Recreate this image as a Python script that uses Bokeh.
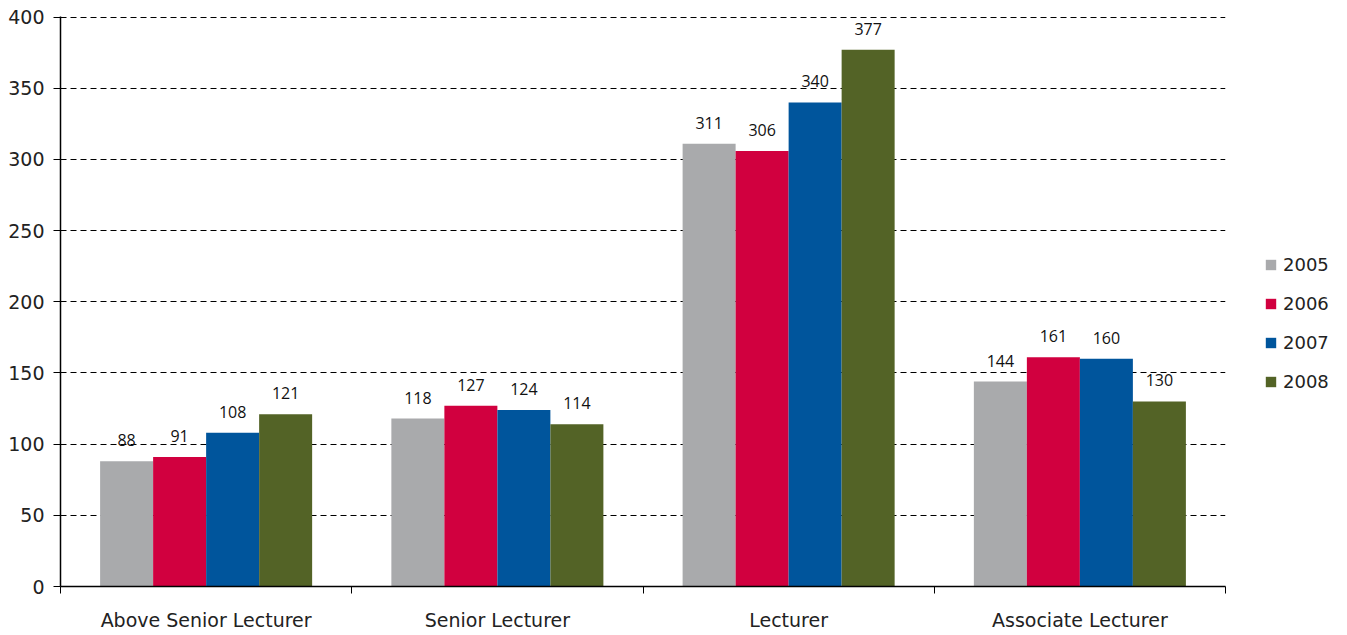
from bokeh.plotting import figure
from bokeh.models import ColumnDataSource, FixedTicker, Legend, LegendItem, Range1d
from bokeh.core.properties import value
from bokeh.embed import file_html
from bokeh.resources import INLINE

categories = ["Above Senior Lecturer", "Senior Lecturer", "Lecturer", "Associate Lecturer"]
years = ["2005", "2006", "2007", "2008"]
v2005 = [88, 118, 311, 144]
v2006 = [91, 127, 306, 161]
v2007 = [108, 124, 340, 160]
v2008 = [121, 114, 377, 130]
series = [v2005, v2006, v2007, v2008]
colors = ["#A9AAAC", "#D1003F", "#00559C", "#536326"]
y_ticks = [0, 50, 100, 150, 200, 250, 300, 350, 400]

p = figure(frame_width=1165, frame_height=570, output_backend="svg", toolbar_location=None,
           x_range=Range1d(0, len(categories)), y_range=Range1d(0, 400.4),
           min_border_left=60, min_border_right=122, min_border_top=16, min_border_bottom=49)
p.outline_line_color = None
p.background_fill_color = "white"
p.border_fill_color = "white"

bw = 0.182
items = []
for i, (yr, vals, col) in enumerate(zip(years, series, colors)):
    off = (i - 1.5) * bw
    xs = [j + 0.5 + off for j in range(len(categories))]
    src = ColumnDataSource(dict(x=xs, top=vals, lab=[str(v) for v in vals]))
    r = p.vbar(x="x", top="top", width=bw, bottom=0, source=src, fill_color=col, line_color=None)
    p.text(x="x", y="top", text="lab", source=src, text_align="center", text_baseline="bottom",
           y_offset=-15, text_font=value("Open Sans"), text_font_size="16px", text_color="#111111")
    items.append(LegendItem(label=yr, renderers=[r]))

# axes
xa = p.xaxis[0]
xa.ticker = FixedTicker(ticks=[j + 0.5 for j in range(len(categories))],
                        minor_ticks=list(range(len(categories) + 1)))
xa.major_label_overrides = {j + 0.5: c for j, c in enumerate(categories)}
xa.major_tick_out = 0
xa.major_tick_in = 0
xa.minor_tick_out = 7
xa.minor_tick_in = 0
xa.minor_tick_line_color = "black"
xa.axis_line_color = "black"
xa.axis_line_width = 1.5
xa.major_label_standoff = 15
xa.major_label_text_font = "DejaVu Sans"
xa.major_label_text_font_size = "19px"
xa.major_label_text_color = "#222222"

ya = p.yaxis[0]
ya.ticker = FixedTicker(ticks=y_ticks)
ya.major_tick_out = 7
ya.major_tick_in = 0
ya.minor_tick_out = 0
ya.minor_tick_in = 0
ya.axis_line_color = "black"
ya.axis_line_width = 1.5
ya.major_tick_line_color = "black"
ya.major_label_standoff = 9
ya.major_label_text_font = "DejaVu Sans"
ya.major_label_text_font_size = "19px"
ya.major_label_text_color = "#222222"

p.xgrid.visible = False
p.ygrid.ticker = FixedTicker(ticks=y_ticks[1:])
p.ygrid.grid_line_color = "black"
p.ygrid.grid_line_dash = "6 4"
p.ygrid.grid_line_width = 1.2

legend = Legend(items=items, location=(39, 194), orientation="vertical",
                glyph_width=13, glyph_height=13, label_height=20, spacing=18,
                label_text_font="DejaVu Sans", label_text_font_size="18px",
                label_text_color="#222222",
                label_standoff=6, padding=0, margin=0,
                border_line_color=None, background_fill_alpha=0)
p.add_layout(legend, "right")

open("out.html", "w").write(file_html(p, INLINE))
